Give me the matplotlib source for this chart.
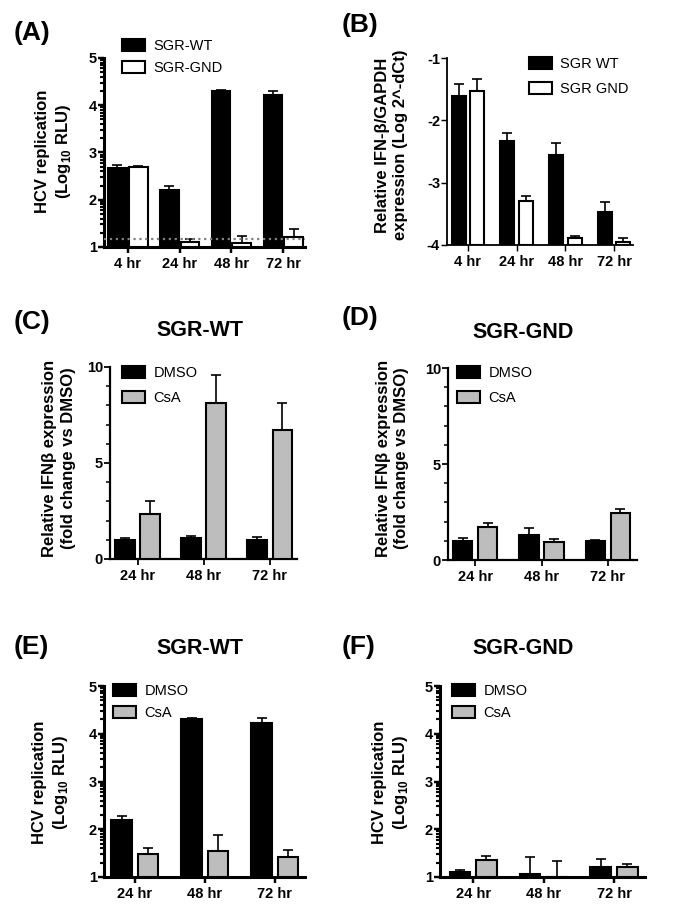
import numpy as np
import matplotlib
matplotlib.use('Agg')
import matplotlib.pyplot as plt
from matplotlib.ticker import FixedLocator, MultipleLocator

plt.rcParams['font.family'] = ['Liberation Sans', 'DejaVu Sans']
plt.rcParams['font.weight'] = 'bold'
plt.rcParams['axes.unicode_minus'] = False
plt.rcParams['mathtext.fontset'] = 'custom'
plt.rcParams['mathtext.rm'] = 'Liberation Sans:bold'
plt.rcParams['mathtext.bf'] = 'Liberation Sans:bold'

# values
hours4 = ['4 hr', '24 hr', '48 hr', '72 hr']
hours3 = ['24 hr', '48 hr', '72 hr']

a_wt = [2.68, 2.20, 4.31, 4.21]
a_wt_err = [0.05, 0.09, 0.02, 0.10]
a_gnd = [2.70, 1.11, 1.08, 1.21]
a_gnd_err = [0.02, 0.06, 0.15, 0.17]
a_lod = 1.17

b_wt = [-1.61, -2.33, -2.56, -3.47]
b_wt_err = [0.19, 0.13, 0.19, 0.16]
b_gnd = [-1.53, -3.30, -3.88, -3.95]
b_gnd_err = [0.19, 0.09, 0.02, 0.06]

c_dmso = [0.97, 1.09, 0.97]
c_dmso_err = [0.12, 0.13, 0.16]
c_csa = [2.36, 8.13, 6.74]
c_csa_err = [0.66, 1.44, 1.39]

d_dmso = [0.99, 1.30, 0.99]
d_dmso_err = [0.14, 0.39, 0.05]
d_csa = [1.74, 0.96, 2.45]
d_csa_err = [0.17, 0.15, 0.19]

e_dmso = [2.20, 4.30, 4.22]
e_dmso_err = [0.08, 0.03, 0.10]
e_csa = [1.49, 1.55, 1.41]
e_csa_err = [0.12, 0.34, 0.15]

f_dmso = [1.10, 1.07, 1.20]
f_dmso_err = [0.04, 0.34, 0.18]
f_csa = [1.35, 1.01, 1.21]
f_csa_err = [0.10, 0.32, 0.07]

W, H = 680, 910
fig = plt.figure(figsize=(6.8, 9.1), dpi=100)


def box(x0, y0, x1, y1):
    return [x0 / W, 1 - y1 / H, (x1 - x0) / W, (y1 - y0) / H]


def panel(rect, labels, s1, e1, s2, e2, c2, base, ylim, yticks, xlim,
          width, off, spine_w):
    ax = fig.add_axes(rect)
    x = np.arange(len(labels))
    s1 = np.array(s1)
    s2 = np.array(s2)
    h1 = ax.bar(x - off, s1 - base, width, bottom=base, color='black',
                edgecolor='black', linewidth=1.5, zorder=3)
    h2 = ax.bar(x + off, s2 - base, width, bottom=base, color=c2,
                edgecolor='black', linewidth=1.5, zorder=3)
    ax.errorbar(x - off, s1, yerr=[np.zeros(len(x)), e1], fmt='none',
                ecolor='black', elinewidth=1.2, capsize=3.5, capthick=1.2, zorder=2)
    ax.errorbar(x + off, s2, yerr=[np.zeros(len(x)), e2], fmt='none',
                ecolor='black', elinewidth=1.2, capsize=3.5, capthick=1.2, zorder=2)
    ax.set_xlim(xlim)
    ax.set_ylim(ylim)
    ax.set_xticks(x)
    ax.set_xticklabels(labels)
    ax.set_yticks(yticks)
    for s in ['top', 'right']:
        ax.spines[s].set_visible(False)
    for s in ['left', 'bottom']:
        ax.spines[s].set_linewidth(spine_w)
    ax.tick_params(axis='both', width=spine_w * 0.8, length=4, labelsize=10.5)
    ax.tick_params(axis='y', which='minor', width=spine_w * 0.7, length=3)
    ax.tick_params(axis='y', pad=1)
    ax.tick_params(axis='x', pad=3)
    return ax, h1, h2


def legend(ax, handles, names, fx, fy, spacing):
    ax.legend(handles, names, loc='upper left', bbox_to_anchor=(fx / W, 1 - fy / H),
              bbox_transform=fig.transFigure, frameon=False,
              prop={'size': 10.5, 'weight': 'normal'},
              handlelength=1.55, handleheight=0.9, handletextpad=0.6,
              labelspacing=spacing, borderpad=0, borderaxespad=0)


def log_minor(lo, hi):
    return [k + np.log10(m) for k in range(lo, hi) for m in range(2, 10)]


grey = '#bdbdbd'

# (A)
ax, h1, h2 = panel(box(104, 58, 305, 247), hours4, a_wt, a_wt_err, a_gnd, a_gnd_err,
                   'white', 1, (1, 5), [1, 2, 3, 4, 5], (-0.46, 3.42), 0.36, 0.2, 2.2)
ax.yaxis.set_minor_locator(FixedLocator(log_minor(1, 5)))
ax.axhline(a_lod, color='#808080', linestyle=':', linewidth=1.6, zorder=4)
legend(ax, [h1, h2], ['SGR-WT', 'SGR-GND'], 122, 39, 0.55)

# (B)
ax, h1, h2 = panel(box(447, 58, 633, 245), hours4, b_wt, b_wt_err, b_gnd, b_gnd_err,
                   'white', -4, (-4, -1), [-4, -3, -2, -1], (-0.43, 3.39), 0.29, 0.19, 1.3)
legend(ax, [h1, h2], ['SGR WT', 'SGR GND'], 529, 57, 0.75)

# (C)
ax, h1, h2 = panel(box(110, 367, 297, 559), hours3, c_dmso, c_dmso_err, c_csa, c_csa_err,
                   grey, 0, (0, 10), [0, 5, 10], (-0.42, 2.41), 0.3, 0.19, 1.6)
ax.yaxis.set_minor_locator(MultipleLocator(1))
legend(ax, [h1, h2], ['DMSO', 'CsA'], 122, 366, 0.75)

# (D)
ax, h1, h2 = panel(box(448, 368, 637, 560), hours3, d_dmso, d_dmso_err, d_csa, d_csa_err,
                   grey, 0, (0, 10), [0, 5, 10], (-0.41, 2.44), 0.29, 0.19, 1.6)
ax.yaxis.set_minor_locator(MultipleLocator(1))
legend(ax, [h1, h2], ['DMSO', 'CsA'], 457, 366, 0.75)

# (E)
ax, h1, h2 = panel(box(104, 686, 305, 877), hours3, e_dmso, e_dmso_err, e_csa, e_csa_err,
                   grey, 1, (1, 5), [1, 2, 3, 4, 5], (-0.44, 2.43), 0.29, 0.19, 2.2)
ax.yaxis.set_minor_locator(FixedLocator(log_minor(1, 5)))
legend(ax, [h1, h2], ['DMSO', 'CsA'], 113, 684, 0.55)

# (F)
ax, h1, h2 = panel(box(440, 686, 645, 877), hours3, f_dmso, f_dmso_err, f_csa, f_csa_err,
                   grey, 1, (1, 5), [1, 2, 3, 4, 5], (-0.47, 2.44), 0.29, 0.19, 2.2)
ax.yaxis.set_minor_locator(FixedLocator(log_minor(1, 5)))
legend(ax, [h1, h2], ['DMSO', 'CsA'], 452, 684, 0.55)

# y labels
ylab_kw = dict(rotation=90, ha='center', va='center', multialignment='center',
               fontsize=12, fontweight='bold', linespacing=1.25)
hcv = 'HCV replication\n(Log$_{10}$ RLU)'
ifn = 'Relative IFN\u03b2 expression\n(fold change vs DMSO)'
fig.text(54 / W, 1 - 151 / H, hcv, **ylab_kw)
fig.text(392 / W, 1 - 145 / H, 'Relative IFN-\u03b2/GAPDH\nexpression (Log 2^-dCt)', **ylab_kw)
fig.text(59 / W, 1 - 458 / H, ifn, **ylab_kw)
fig.text(393 / W, 1 - 458 / H, ifn, **ylab_kw)
fig.text(51 / W, 1 - 782 / H, hcv, **ylab_kw)
fig.text(391 / W, 1 - 782 / H, hcv, **ylab_kw)

# panel letters
for lab, px, py in [('(A)', 14, 33), ('(B)', 342, 25), ('(C)', 14, 322),
                    ('(D)', 342, 318), ('(E)', 14, 647), ('(F)', 342, 647)]:
    fig.text(px / W, 1 - py / H, lab, fontsize=19, fontweight='bold',
             ha='left', va='center')

# panel titles
for lab, px, py in [('SGR-WT', 200, 330), ('SGR-GND', 523, 333),
                    ('SGR-WT', 200, 648), ('SGR-GND', 523, 648)]:
    fig.text(px / W, 1 - py / H, lab, fontsize=15.5, fontweight='bold',
             ha='center', va='center')

fig.savefig('out.png', dpi=100)
